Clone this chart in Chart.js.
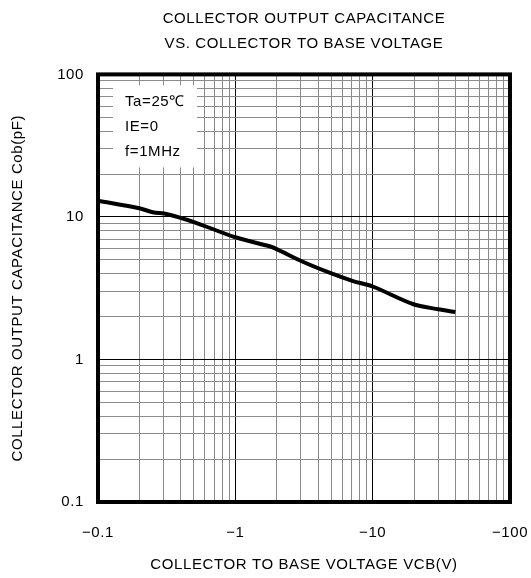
<!DOCTYPE html>
<html>
<head>
<meta charset="utf-8">
<script src="https://cdn.jsdelivr.net/npm/chart.js@4/dist/chart.umd.min.js"></script>
<style>
  html, body { margin: 0; padding: 0; background: #fff; }
  #cobChart { display: block; }
</style>
</head>
<body>
<canvas id="cobChart" width="531" height="578"></canvas>
<script>
// |VCB| in volts (axis is negative voltage, labels show the sign)
const vcb = [0.1, 0.2, 0.25, 0.32, 0.5, 1.0, 1.8, 2.0, 3.1, 4.9, 7.2, 10, 19.6, 30, 40];
const cob = [13.0, 11.5, 10.8, 10.45, 9.2, 7.2, 6.2, 5.95, 4.85, 4.05, 3.55, 3.25, 2.45, 2.25, 2.15];

const xDecades = [0.1, 1, 10, 100];
const xTickLabels = ['\u22120.1', '\u22121', '\u221210', '\u2212100'];
const yDecades = [0.1, 1, 10, 100];
const yTickLabels = ['0.1', '1', '10', '100'];

const titleLines = ['COLLECTOR OUTPUT CAPACITANCE', 'VS. COLLECTOR TO BASE VOLTAGE'];
const conditions = ['Ta=25\u2103', 'IE=0', 'f=1MHz'];

const fuente = "'Liberation Sans', Arial, sans-serif";
const tam = 15;

function pasosLog(decadas) {
    const ticks = [];
    for (let i = 0; i < decadas.length - 1; i++) {
        for (let k = 1; k < 10; k++) ticks.push({ value: decadas[i] * k });
    }
    ticks.push({ value: decadas[decadas.length - 1] });
    return ticks;
}

function esDecada(v) {
    const l = Math.log10(v);
    return Math.abs(l - Math.round(l)) < 1e-6;
}

function colorGrid(ctx) {
    const v = ctx.tick && ctx.tick.value;
    if (v === undefined) return '#888';
    return esDecada(v) ? '#000' : '#8a8a8a';
}

// espaciado de letras (el original usa una fuente mas ancha)
const espaciado = {
    id: 'espaciado',
    beforeUpdate(chart) { chart.ctx.letterSpacing = '0.6px'; },
    beforeDraw(chart) { chart.ctx.letterSpacing = '0.6px'; }
};

const cajaCondiciones = {
    id: 'cajaCondiciones',
    beforeDatasetsDraw(chart) {
        const { ctx, chartArea } = chart;
        const x0 = chartArea.left + 15, y0 = chartArea.top + 11;
        ctx.save();
        ctx.fillStyle = '#fff';
        ctx.fillRect(x0, y0, 84, 82);
        ctx.fillStyle = '#000';
        ctx.font = tam + 'px ' + fuente;
        ctx.textBaseline = 'middle';
        conditions.forEach((t, i) => ctx.fillText(t, x0 + 12, y0 + 16 + i * 25));
        ctx.restore();
    }
};

const marco = {
    id: 'marco',
    afterDatasetsDraw(chart) {
        const { ctx, chartArea } = chart;
        ctx.save();
        ctx.strokeStyle = '#000';
        ctx.lineWidth = 4;
        ctx.strokeRect(chartArea.left, chartArea.top, chartArea.right - chartArea.left, chartArea.bottom - chartArea.top);
        ctx.restore();
    }
};

const ctx = document.getElementById('cobChart').getContext('2d');

window.myChart = new Chart(ctx, {
    type: 'line',
    data: {
        datasets: [{
            data: vcb.map((v, i) => ({ x: v, y: cob[i] })),
            borderColor: '#000',
            borderWidth: 4,
            pointRadius: 0,
            tension: 0.3,
            fill: false
        }]
    },
    options: {
        responsive: false,
        animation: false,
        layout: { padding: { left: 0, right: 21, top: 0, bottom: 0 } },
        plugins: {
            legend: { display: false },
            tooltip: { enabled: false },
            title: {
                display: true,
                text: titleLines,
                fullSize: false,
                color: '#000',
                font: { family: fuente, size: tam, weight: 'normal', lineHeight: 1.68 },
                padding: { top: 6, bottom: 18 }
            }
        },
        scales: {
            x: {
                type: 'logarithmic',
                min: 0.1,
                max: 100,
                afterBuildTicks: s => { s.ticks = pasosLog(xDecades); },
                afterFit: s => { s.height = 76; s.paddingRight = 0; s.paddingLeft = 0; },
                grid: { color: colorGrid, lineWidth: 1, drawTicks: false },
                border: { display: false },
                ticks: {
                    autoSkip: false,
                    maxRotation: 0,
                    padding: 22,
                    color: '#000',
                    font: { family: fuente, size: tam },
                    callback: v => {
                        const i = xDecades.findIndex(d => Math.abs(d - v) < 1e-9);
                        return i >= 0 ? xTickLabels[i] : '';
                    }
                },
                title: {
                    display: true,
                    text: 'COLLECTOR TO BASE VOLTAGE VCB(V)',
                    color: '#000',
                    font: { family: fuente, size: tam },
                    padding: { top: 0, bottom: 4 }
                }
            },
            y: {
                type: 'logarithmic',
                min: 0.1,
                max: 100,
                afterBuildTicks: s => { s.ticks = pasosLog(yDecades); },
                afterFit: s => { s.width = 98; },
                grid: { color: colorGrid, lineWidth: 1, drawTicks: false },
                border: { display: false },
                ticks: {
                    autoSkip: false,
                    padding: 14,
                    color: '#000',
                    font: { family: fuente, size: tam },
                    callback: v => {
                        const i = yDecades.findIndex(d => Math.abs(d - v) < 1e-9);
                        return i >= 0 ? yTickLabels[i] : '';
                    }
                },
                title: {
                    display: true,
                    text: 'COLLECTOR OUTPUT CAPACITANCE Cob(pF)',
                    color: '#000',
                    font: { family: fuente, size: tam },
                    padding: { top: 9, bottom: 0 }
                }
            }
        }
    },
    plugins: [espaciado, cajaCondiciones, marco]
});
</script>
</body>
</html>
